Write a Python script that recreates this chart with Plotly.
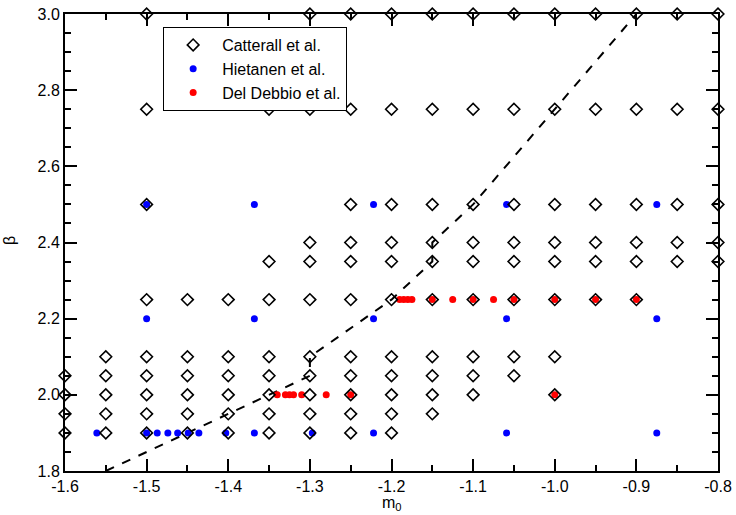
import plotly.graph_objects as go

# ---------------- data ----------------
# Catterall et al. (open diamonds), one list of m0 per beta row
cat_b300 = [-1.5, -1.3, -1.25, -1.2, -1.15, -1.1, -1.05, -1.0, -0.95, -0.9, -0.85, -0.8]
cat_b275 = [-1.5, -1.35, -1.3, -1.25, -1.2, -1.15, -1.1, -1.05, -1.0, -0.95, -0.9, -0.85, -0.8]
cat_b250 = [-1.5, -1.25, -1.2, -1.15, -1.1, -1.05, -1.0, -0.95, -0.9, -0.85, -0.8]
cat_b240 = [-1.3, -1.25, -1.2, -1.15, -1.1, -1.05, -1.0, -0.95, -0.9, -0.85, -0.8]
cat_b235 = [-1.35, -1.3, -1.25, -1.2, -1.15, -1.1, -1.05, -1.0, -0.95, -0.9, -0.85, -0.8]
cat_b225 = [-1.5, -1.45, -1.4, -1.35, -1.3, -1.25, -1.2, -1.15, -1.1, -1.05, -1.0, -0.95, -0.9]
cat_b210 = [-1.55, -1.5, -1.45, -1.4, -1.35, -1.3, -1.25, -1.2, -1.15, -1.1, -1.05, -1.0]
cat_b205 = [-1.6, -1.55, -1.5, -1.45, -1.4, -1.35, -1.3, -1.25, -1.2, -1.15, -1.1, -1.05]
cat_b200 = [-1.6, -1.55, -1.5, -1.45, -1.4, -1.35, -1.3, -1.25, -1.2, -1.15, -1.1, -1.0]
cat_b195 = [-1.6, -1.55, -1.5, -1.45, -1.4, -1.35, -1.3, -1.25, -1.2, -1.15]
cat_b190 = [-1.6, -1.55, -1.5, -1.45, -1.4, -1.35, -1.3, -1.25, -1.2]
cat_rows = [(3.0, cat_b300), (2.75, cat_b275), (2.5, cat_b250), (2.4, cat_b240),
            (2.35, cat_b235), (2.25, cat_b225), (2.1, cat_b210), (2.05, cat_b205),
            (2.0, cat_b200), (1.95, cat_b195), (1.9, cat_b190)]

# Hietanen et al. (blue dots)
hie_b250 = [-1.5, -1.368, -1.222, -1.059, -0.875]
hie_b220 = [-1.5, -1.368, -1.222, -1.059, -0.875]
hie_b190 = [-1.561, -1.5, -1.487, -1.474, -1.462, -1.449, -1.436, -1.403,
            -1.368, -1.297, -1.222, -1.059, -0.875]
hie_rows = [(2.5, hie_b250), (2.2, hie_b220), (1.9, hie_b190)]

# Del Debbio et al. (red dots)
ddb_b225 = [-1.19, -1.185, -1.18, -1.175, -1.15, -1.125, -1.1, -1.075,
            -1.05, -1.0, -0.95, -0.9]
ddb_b200 = [-1.34, -1.33, -1.325, -1.32, -1.31, -1.28, -1.25, -1.0]
ddb_rows = [(2.25, ddb_b225), (2.0, ddb_b200)]

# dashed boundary line
line_m0 = [-1.55, -1.3, -1.3, -1.2, -1.15, -1.15, -1.1, -1.0, -0.9]
line_beta = [1.8, 2.05, 2.1, 2.25, 2.35, 2.4, 2.5, 2.75, 3.0]

x_ticks = [-1.6, -1.5, -1.4, -1.3, -1.2, -1.1, -1.0, -0.9, -0.8]
x_labels = ["-1.6", "-1.5", "-1.4", "-1.3", "-1.2", "-1.1", "-1.0", "-0.9", "-0.8"]
y_ticks = [1.8, 2.0, 2.2, 2.4, 2.6, 2.8, 3.0]
y_labels = ["1.8", "2.0", "2.2", "2.4", "2.6", "2.8", "3.0"]
x_title = "m<sub>0</sub>"
y_title = "β"


def flatten(rows):
    xs, ys = [], []
    for b, ms in rows:
        xs += ms
        ys += [b] * len(ms)
    return xs, ys


FONT = "Liberation Sans, Arial, Helvetica, sans-serif"

fig = go.Figure()

fig.add_trace(go.Scatter(x=line_m0, y=line_beta, mode="lines",
                         line=dict(color="black", width=2, dash="dash"),
                         showlegend=False, hoverinfo="skip", cliponaxis=False))

hx, hy = flatten(hie_rows)
fig.add_trace(go.Scatter(x=hx, y=hy, mode="markers", name="Hietanen et al.",
                         marker=dict(symbol="circle", size=7, color="#0000ff",
                                     line=dict(width=0)),
                         cliponaxis=False, legendrank=2))

dx, dy = flatten(ddb_rows)
fig.add_trace(go.Scatter(x=dx, y=dy, mode="markers", name="Del Debbio et al.",
                         marker=dict(symbol="circle", size=7, color="#ff0000",
                                     line=dict(width=0)),
                         cliponaxis=False, legendrank=3))

cx, cy = flatten(cat_rows)
fig.add_trace(go.Scatter(x=cx, y=cy, mode="markers", name="Catterall et al.",
                         marker=dict(symbol="diamond-open", size=9, color="black",
                                     line=dict(width=1.6, color="black")),
                         cliponaxis=False, legendrank=1))

axis_common = dict(
    showgrid=False, zeroline=False, showline=True, linecolor="black", linewidth=2,
    mirror="allticks", ticks="inside", ticklen=12, tickwidth=1.5, tickcolor="black",
    tickfont=dict(family=FONT, size=16, color="black"), automargin=False,
)

fig.update_xaxes(range=[-1.6, -0.8], tickvals=x_ticks, ticktext=x_labels,
                 minor=dict(dtick=0.05, tick0=-1.6, ticks="inside", ticklen=6,
                            tickwidth=1.5, tickcolor="black"),
                 **axis_common)
fig.update_yaxes(range=[1.8, 3.0], tickvals=y_ticks, ticktext=y_labels,
                 minor=dict(dtick=0.05, tick0=1.8, ticks="inside", ticklen=6,
                            tickwidth=1.5, tickcolor="black"),
                 **axis_common)

fig.add_annotation(text=x_title, xref="paper", yref="paper", x=0.5, y=-0.072,
                   xanchor="center", yanchor="middle", showarrow=False,
                   font=dict(family=FONT, size=16, color="black"))
fig.add_annotation(text=y_title, xref="paper", yref="paper", x=-0.086, y=0.505,
                   xanchor="center", yanchor="middle", showarrow=False, textangle=-90,
                   font=dict(family=FONT, size=16, color="black"))

fig.update_layout(
    width=736, height=515,
    margin=dict(l=65, r=18, t=14, b=44),
    paper_bgcolor="white", plot_bgcolor="white",
    font=dict(family=FONT, size=16, color="black"),
    legend=dict(x=0.150, y=0.972, xanchor="left", yanchor="top",
                bgcolor="white", bordercolor="black", borderwidth=1.2,
                font=dict(family=FONT, size=16, color="black"),
                itemwidth=48, tracegroupgap=0),
)

fig.write_html("out.html")
